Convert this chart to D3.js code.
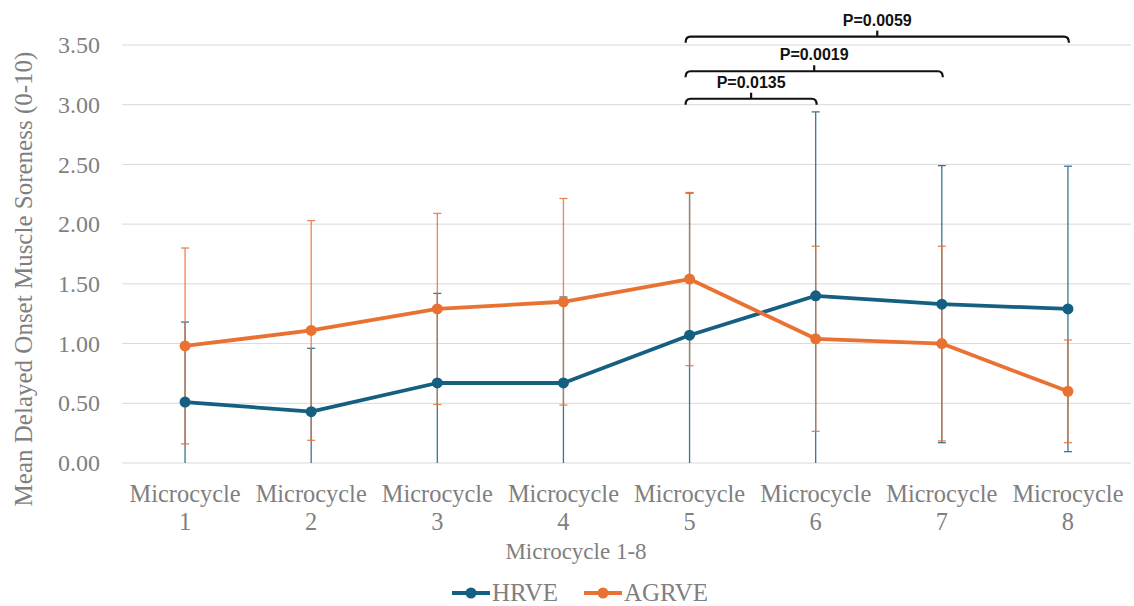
<!DOCTYPE html>
<html>
<head>
<meta charset="utf-8">
<script src="https://cdn.jsdelivr.net/npm/d3@7"></script>
<style>
  body { margin: 0; background: #fff; }
</style>
</head>
<body>
<div id="chart"></div>
<script>
// data
const categories = ["1", "2", "3", "4", "5", "6", "7", "8"];
const hrveMean = [0.51, 0.43, 0.67, 0.67, 1.07, 1.40, 1.33, 1.29];
const hrveSd = [0.67, 0.53, 0.75, 0.72, 1.19, 1.54, 1.16, 1.195];
const agrveMean = [0.98, 1.11, 1.29, 1.35, 1.54, 1.04, 1.00, 0.60];
const agrveSd = [0.82, 0.92, 0.80, 0.865, 0.725, 0.775, 0.815, 0.43];
const yTicks = [0, 0.5, 1, 1.5, 2, 2.5, 3, 3.5];
// significance brackets: from category, to category, level, label
const brackets = [
    { from: "5", to: "6", level: 3.05, label: "P=0.0135" },
    { from: "5", to: "7", level: 3.28, label: "P=0.0019" },
    { from: "5", to: "8", level: 3.57, label: "P=0.0059" }
];

const width = 1134, height = 606;
const margin = { left: 122, right: 3, top: 45, bottom: 143 };
const serif = "'Liberation Serif', 'Times New Roman', serif";
const grey = "#7f7f7f";

const svg = d3.select("#chart")
    .append("svg")
    .attr("width", width)
    .attr("height", height)
    .style("font-family", serif);

const x = d3.scaleBand()
    .domain(categories)
    .range([margin.left, width - margin.right]);

const y = d3.scaleLinear()
    .domain([0, 3.5])
    .range([height - margin.bottom, margin.top]);

const cx = d => x(d) + x.bandwidth() / 2;

// gridlines
svg.append("g")
    .selectAll("line")
    .data(yTicks)
    .join("line")
    .attr("x1", margin.left)
    .attr("x2", width - margin.right)
    .attr("y1", d => y(d))
    .attr("y2", d => y(d))
    .attr("stroke", "#d9d9d9")
    .attr("stroke-width", 1);

// y axis labels
const yAxis = svg.append("g")
    .attr("transform", `translate(${margin.left - 22},0)`)
    .call(d3.axisLeft(y).tickValues(yTicks).tickFormat(d3.format(".2f")).tickSize(0).tickPadding(0));
yAxis.select(".domain").remove();
yAxis.selectAll("text")
    .style("font-family", serif)
    .style("font-size", "24px")
    .attr("fill", grey);

// x axis labels
const xAxis = svg.append("g")
    .attr("transform", `translate(0,${height - margin.bottom})`)
    .call(d3.axisBottom(x).tickSize(0).tickFormat(""));
xAxis.select(".domain").remove();
xAxis.selectAll(".tick").each(function(d) {
    const t = d3.select(this).append("text")
        .attr("text-anchor", "middle")
        .style("font-family", serif)
        .style("font-size", "24.4px")
        .attr("fill", grey);
    t.append("tspan").attr("x", 0).attr("y", 39).text("Microcycle");
    t.append("tspan").attr("x", 0).attr("y", 67).text(d);
});

// axis titles
svg.append("text")
    .attr("transform", "translate(32,279) rotate(-90)")
    .attr("text-anchor", "middle")
    .style("font-size", "25px")
    .attr("fill", grey)
    .text("Mean Delayed Onset Muscle Soreness (0-10)");

svg.append("text")
    .attr("x", 576)
    .attr("y", 559)
    .attr("text-anchor", "middle")
    .style("font-size", "23px")
    .attr("fill", grey)
    .text("Microcycle 1-8");

const series = [
    { name: "HRVE", color: "#156082", mean: hrveMean, sd: hrveSd },
    { name: "AGRVE", color: "#e97132", mean: agrveMean, sd: agrveSd }
];

// error bars
series.forEach(s => {
    const g = svg.append("g").attr("stroke", s.color).attr("stroke-width", 1.3).attr("opacity", 0.85);
    categories.forEach((c, i) => {
        const lo = Math.max(0, s.mean[i] - s.sd[i]);
        const hi = s.mean[i] + s.sd[i];
        g.append("line")
            .attr("x1", cx(c)).attr("x2", cx(c))
            .attr("y1", y(lo)).attr("y2", y(hi));
        g.append("line")
            .attr("x1", cx(c) - 4).attr("x2", cx(c) + 4)
            .attr("y1", y(hi)).attr("y2", y(hi));
        if (s.mean[i] - s.sd[i] > 0) {
            g.append("line")
                .attr("x1", cx(c) - 4).attr("x2", cx(c) + 4)
                .attr("y1", y(lo)).attr("y2", y(lo));
        }
    });
});

// lines and markers
const line = d3.line()
    .x((d, i) => cx(categories[i]))
    .y(d => y(d));

series.forEach(s => {
    svg.append("path")
        .datum(s.mean)
        .attr("d", line)
        .attr("fill", "none")
        .attr("stroke", s.color)
        .attr("stroke-width", 3.8)
        .attr("stroke-linejoin", "round");
    svg.append("g")
        .selectAll("circle")
        .data(s.mean)
        .join("circle")
        .attr("cx", (d, i) => cx(categories[i]))
        .attr("cy", d => y(d))
        .attr("r", 5.5)
        .attr("fill", s.color);
});

// significance brackets
const bg = svg.append("g");
brackets.forEach(b => {
    const x1 = cx(b.from) - 4, x2 = cx(b.to) + 1;
    const yy = y(b.level);
    const xm = (x1 + x2) / 2;
    bg.append("path")
        .attr("d", `M${x1},${yy + 6} Q${x1},${yy} ${x1 + 5},${yy} L${x2 - 5},${yy} Q${x2},${yy} ${x2},${yy + 6}`)
        .attr("fill", "none")
        .attr("stroke", "#111")
        .attr("stroke-width", 2.2);
    bg.append("line")
        .attr("x1", xm).attr("x2", xm)
        .attr("y1", yy).attr("y2", yy - 6)
        .attr("stroke", "#111")
        .attr("stroke-width", 2.2);
    bg.append("text")
        .attr("x", xm)
        .attr("y", yy - 11)
        .attr("text-anchor", "middle")
        .style("font-family", "'Liberation Sans', Arial, sans-serif")
        .style("font-weight", "bold")
        .style("font-size", "16px")
        .attr("fill", "#111")
        .text(b.label);
});

// legend
const legendX = [452, 584];
series.forEach((s, i) => {
    const lg = svg.append("g").attr("transform", `translate(${legendX[i]},593)`);
    lg.append("line")
        .attr("x1", 0).attr("x2", 38)
        .attr("stroke", s.color).attr("stroke-width", 3.8);
    lg.append("circle").attr("cx", 19).attr("r", 5.5).attr("fill", s.color);
    lg.append("text")
        .attr("x", 40)
        .attr("y", 8)
        .style("font-size", "25px")
        .attr("fill", grey)
        .text(s.name);
});
</script>
</body>
</html>
